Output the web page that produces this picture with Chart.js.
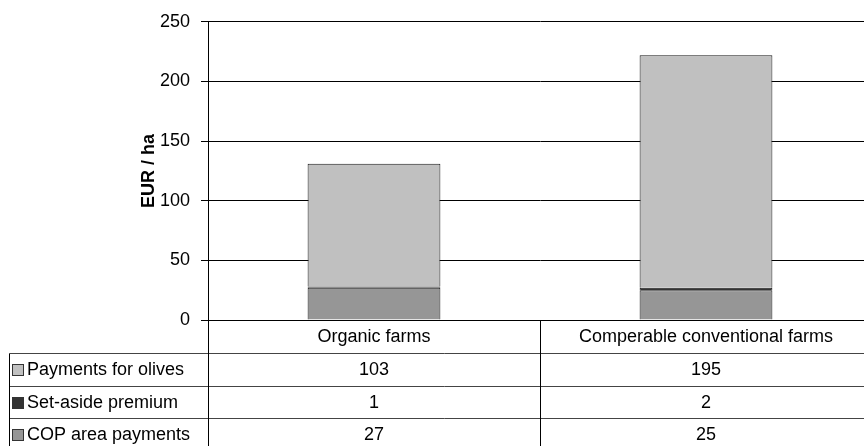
<!DOCTYPE html>
<html>
<head>
<meta charset="utf-8">
<title>Direct payments per hectare</title>
<script src="https://cdn.jsdelivr.net/npm/chart.js@4/dist/chart.umd.min.js"></script>
<style>
  html, body { margin: 0; padding: 0; background: #fff; overflow: hidden; }
  #wrap { width: 880px; height: 446px; }
</style>
</head>
<body>
<div id="wrap"><canvas id="chart" width="880" height="446"></canvas></div>
<script>
// Farm groups (columns of the data table)
const categories = ['Organic farms', 'Comperable conventional farms'];

// Payment components, EUR per hectare
const copAreaPayments = [27, 25];
const setAsidePremium = [1, 2];
const paymentsForOlives = [103, 195];

// Y axis ticks
const yTicks = [0, 50, 100, 150, 200, 250];

const FONT = '"Liberation Sans", Arial, Helvetica, sans-serif';

const series = [
  { label: 'COP area payments', data: copAreaPayments, color: '#969696' },
  { label: 'Set-aside premium', data: setAsidePremium, color: '#333333' },
  { label: 'Payments for olives', data: paymentsForOlives, color: '#c0c0c0' }
];

// Draws the data table beneath the plot: legend keys, row labels and values
const dataTable = {
  id: 'dataTable',
  afterDraw(chart) {
    const ctx = chart.ctx;
    const area = chart.chartArea;
    const x = chart.scales.x;
    const headerH = 33;
    const rowH = 32.5;
    const leftX = 9.5;
    const rightX = chart.width;
    const rowsTop = area.bottom + headerH;
    const rows = series.slice().reverse();

    ctx.save();
    // horizontal rules
    ctx.strokeStyle = '#444';
    ctx.lineWidth = 1;
    for (let r = 0; r < rows.length; r++) {
      const y = Math.round(rowsTop + r * rowH) + 0.5;
      ctx.beginPath();
      ctx.moveTo(leftX, y);
      ctx.lineTo(rightX, y);
      ctx.stroke();
    }
    // vertical rules
    ctx.strokeStyle = '#000';
    ctx.beginPath();
    ctx.moveTo(leftX, Math.round(rowsTop) + 0.5);
    ctx.lineTo(leftX, chart.height);
    const yAxisX = Math.round(area.left) + 0.5;
    ctx.moveTo(yAxisX, area.bottom);
    ctx.lineTo(yAxisX, chart.height);
    for (let i = 1; i < categories.length; i++) {
      const bx = Math.round((x.getPixelForValue(i - 1) + x.getPixelForValue(i)) / 2) + 0.5;
      ctx.moveTo(bx, area.bottom);
      ctx.lineTo(bx, chart.height);
    }
    ctx.stroke();

    // rows
    ctx.font = '18px ' + FONT;
    ctx.textBaseline = 'middle';
    rows.forEach((s, r) => {
      const cy = rowsTop + r * rowH + rowH / 2 + 1;
      // legend key
      ctx.fillStyle = s.color;
      ctx.fillRect(12.5, Math.round(cy - 6) + 0.5, 11, 11);
      ctx.strokeStyle = '#333';
      ctx.strokeRect(12.5, Math.round(cy - 6) + 0.5, 11, 11);
      ctx.fillStyle = '#000';
      ctx.textAlign = 'left';
      ctx.fillText(s.label, 27, cy);
      ctx.textAlign = 'center';
      s.data.forEach((v, i) => {
        ctx.fillText(String(v), x.getPixelForValue(i), cy);
      });
    });
    ctx.restore();
  }
};

new Chart(document.getElementById('chart'), {
  type: 'bar',
  data: {
    labels: categories,
    datasets: series.map(s => ({
      label: s.label,
      data: s.data,
      backgroundColor: s.color,
      borderColor: '#1a1a1a',
      borderWidth: 1,
      barPercentage: 0.4,
      categoryPercentage: 1.0
    }))
  },
  options: {
    responsive: false,
    animation: false,
    devicePixelRatio: 1,
    layout: { padding: { top: 21, right: 8, bottom: 0, left: 0 } },
    plugins: {
      legend: { display: false },
      tooltip: { enabled: false },
      title: { display: false }
    },
    scales: {
      x: {
        stacked: true,
        offset: true,
        grid: { display: false, drawTicks: false },
        border: { display: true, color: '#000', width: 1 },
        ticks: {
          color: '#000',
          padding: 6,
          font: { family: FONT, size: 18 },
          maxRotation: 0,
          autoSkip: false
        },
        afterFit(scale) { scale.height = 126; }
      },
      y: {
        stacked: true,
        min: 0,
        max: 250,
        afterBuildTicks(scale) { scale.ticks = yTicks.map(v => ({ value: v })); },
        grid: { color: '#000', lineWidth: 1, drawTicks: true, tickLength: 7, tickColor: '#000' },
        border: { display: true, color: '#000', width: 1 },
        ticks: {
          color: '#000',
          padding: 11,
          font: { family: FONT, size: 18 }
        },
        title: {
          display: true,
          text: 'EUR / ha',
          color: '#000',
          font: { family: FONT, size: 18, weight: 'bold' },
          padding: { top: 138, bottom: 0 }
        },
        afterFit(scale) { scale.width = 208; }
      }
    }
  },
  plugins: [dataTable]
});
</script>
</body>
</html>
